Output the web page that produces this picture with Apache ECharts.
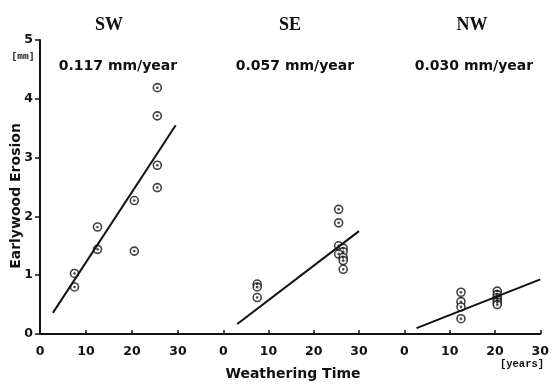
<!DOCTYPE html>
<html>
<head>
<meta charset="utf-8">
<script src="https://cdn.jsdelivr.net/npm/echarts@6/dist/echarts.min.js"></script>
<style>
  html, body { margin: 0; padding: 0; background: #fff; }
  #chart { width: 552px; height: 386px; }
</style>
</head>
<body>
<div id="chart"></div>
<script>
// Earlywood erosion vs. weathering time, three exposures
const panels = ['SW', 'SE', 'NW'];
const rates = ['0.117 mm/year', '0.057 mm/year', '0.030 mm/year'];
const xTicks = [0, 10, 20, 30];
const yTicks = [0, 1, 2, 3, 4, 5];

const swTime = [7.5, 7.5, 12.5, 12.5, 20.5, 20.5, 25.5, 25.5, 25.5, 25.5];
const swErosion = [1.03, 0.8, 1.82, 1.44, 2.27, 1.41, 4.19, 3.71, 2.87, 2.49];
const swFitTime = [2.8, 29.5];
const swFitErosion = [0.36, 3.55];

const seTime = [7.5, 7.5, 7.5, 25.5, 25.5, 25.5, 26.5, 26.5, 25.5, 26.5, 26.5, 26.5];
const seErosion = [0.85, 0.8, 0.62, 2.12, 1.89, 1.5, 1.46, 1.4, 1.36, 1.3, 1.25, 1.1];
const seFitTime = [3.1, 30];
const seFitErosion = [0.17, 1.75];

const nwTime = [12.5, 12.5, 12.5, 12.5, 20.5, 20.5, 20.5, 20.5, 20.5, 20.5];
const nwErosion = [0.71, 0.55, 0.46, 0.26, 0.73, 0.67, 0.62, 0.58, 0.54, 0.5];
const nwFitTime = [2.7, 30];
const nwFitErosion = [0.1, 0.93];

const zip = (a, b) => a.map((v, i) => [v, b[i]]);
const pointSets = [zip(swTime, swErosion), zip(seTime, seErosion), zip(nwTime, nwErosion)];
const fitSets = [zip(swFitTime, swFitErosion), zip(seFitTime, seFitErosion), zip(nwFitTime, nwFitErosion)];

const ink = '#111';
const sans = 'DejaVu Sans';

const grids = [
  { left: 40, width: 138, top: 40, height: 294 },
  { left: 178, width: 181, top: 40, height: 294 },
  { left: 359, width: 183, top: 40, height: 294 },
];

const xAxes = grids.map((g, i) => ({
  type: 'value',
  gridIndex: i,
  min: i === 0 ? xTicks[0] : -10,
  max: xTicks[xTicks.length - 1],
  interval: 10,
  axisLine: { lineStyle: { color: ink, width: 2 } },
  axisTick: { inside: true, length: 4, lineStyle: { color: ink, width: 1.5 } },
  axisLabel: {
    color: ink, fontFamily: sans, fontWeight: 'bold', fontSize: 12.5, margin: 11,
    formatter: v => (v < 0 ? '' : String(v)),
  },
  splitLine: { show: false },
}));

const yAxes = grids.map((g, i) => ({
  type: 'value',
  gridIndex: i,
  show: i === 0,
  min: yTicks[0],
  max: yTicks[yTicks.length - 1],
  interval: 1,
  axisLine: { show: true, lineStyle: { color: ink, width: 2 } },
  axisTick: { show: true, length: 5, lineStyle: { color: ink, width: 1.5 } },
  axisLabel: { color: ink, fontFamily: sans, fontWeight: 'bold', fontSize: 12.5, margin: 7 },
  splitLine: { show: false },
}));

const series = [];
panels.forEach((p, i) => {
  series.push({
    name: p + ' points',
    type: 'scatter',
    xAxisIndex: i, yAxisIndex: i,
    data: pointSets[i],
    symbol: 'circle',
    symbolSize: 8,
    itemStyle: { color: '#fff', borderColor: ink, borderWidth: 1.6 },
    z: 3,
  });
  series.push({
    name: p + ' dots',
    type: 'scatter',
    xAxisIndex: i, yAxisIndex: i,
    data: pointSets[i],
    symbol: 'circle',
    symbolSize: 2.5,
    itemStyle: { color: ink },
    z: 4,
  });
  series.push({
    name: p + ' fit',
    type: 'line',
    xAxisIndex: i, yAxisIndex: i,
    data: fitSets[i],
    showSymbol: false,
    lineStyle: { color: ink, width: 2 },
    z: 5,
  });
});

const titleX = [104, 285, 467];
const rateX = [113, 290, 469];

const titles = [];
panels.forEach((p, i) => {
  titles.push({
    text: p, left: titleX[i], top: 11, textAlign: 'center',
    textStyle: { fontFamily: 'Liberation Serif', fontWeight: 'bold', fontSize: 18, color: ink },
  });
  titles.push({
    text: rates[i], left: rateX[i], top: 54, textAlign: 'center',
    textStyle: { fontFamily: sans, fontWeight: 'bold', fontSize: 14, color: ink },
  });
});

const chart = echarts.init(document.getElementById('chart'));
chart.setOption({
  animation: false,
  backgroundColor: '#fff',
  title: titles,
  grid: grids,
  xAxis: xAxes,
  yAxis: yAxes,
  series: series,
  graphic: [
    {
      type: 'text', x: 16, y: 196, rotation: Math.PI / 2,
      style: {
        text: 'Earlywood Erosion', fill: ink, font: 'bold 14px "DejaVu Sans"',
        textAlign: 'center', textVerticalAlign: 'middle',
      },
    },
    {
      type: 'text', x: 293, y: 374,
      style: {
        text: 'Weathering Time', fill: ink, font: 'bold 14px "DejaVu Sans"',
        textAlign: 'center', textVerticalAlign: 'middle',
      },
    },
    {
      type: 'text', x: 23, y: 57,
      style: {
        text: '[mm]', fill: ink, font: 'bold 9.5px "Liberation Mono"',
        textAlign: 'center', textVerticalAlign: 'middle',
      },
    },
    {
      type: 'text', x: 522, y: 364,
      style: {
        text: '[years]', fill: ink, font: 'bold 10.5px "Liberation Mono"',
        textAlign: 'center', textVerticalAlign: 'middle',
      },
    },
  ],
});
</script>
</body>
</html>
